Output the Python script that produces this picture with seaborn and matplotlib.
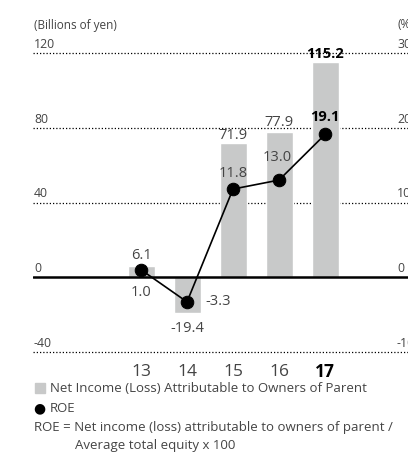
import matplotlib
matplotlib.use("Agg")
import matplotlib.pyplot as plt
import matplotlib.transforms as mtransforms
from matplotlib.patches import Rectangle
import seaborn as sns
import pandas as pd

years = ["13", "14", "15", "16", "17"]
net_income = [6.1, -19.4, 71.9, 77.9, 115.2]
roe = [1.0, -3.3, 11.8, 13.0, 19.1]
left_ticks = [120, 80, 40, 0, -40]
right_ticks = ["30", "20", "10", "0", "-10"]
legend_bar = "Net Income (Loss) Attributable to Owners of Parent"
legend_roe = "ROE"
note1 = "ROE = Net income (loss) attributable to owners of parent /"
note2 = "Average total equity x 100"

sns.set_theme(style="white")
plt.rcParams["font.family"] = ["Open Sans", "DejaVu Sans"]

W, H = 408, 455
fig = plt.figure(figsize=(W / 100, H / 100), dpi=100)

def px_to_fig(x, y):
    return x / W, 1 - y / H

# axes geometry in pixels
ax_left, ax_right = 33, 412
ax_top, ax_bottom = 43.7, 361.3
ax = fig.add_axes([ax_left / W, 1 - ax_bottom / H, (ax_right - ax_left) / W, (ax_bottom - ax_top) / H])

df = pd.DataFrame({"year": years, "ni": net_income, "roe": roe})
sns.barplot(data=df, x="year", y="ni", color="#c8c9c9", saturation=1, width=0.587, ax=ax)

ax.set_ylim(-45, 125)
ax.set_xlim(-2.348, 5.891)

ax2 = ax.twinx()
ax2.set_ylim(-45 / 4, 125 / 4)
sns.lineplot(x=list(range(len(years))), y=roe, ax=ax2, color="black", linewidth=1.2,
             marker="o", markersize=9, markeredgecolor="black", markerfacecolor="black")

for a in (ax, ax2):
    a.set_xlabel("")
    a.set_ylabel("")
    a.set_yticks([])
    a.set_xticks([])
    for s in a.spines.values():
        s.set_visible(False)
    a.grid(False)
ax.patch.set_alpha(0)

# gridlines
for v in left_ticks:
    if v == 0:
        ax.axhline(0, color="black", lw=1.8, zorder=5)
    else:
        ax.axhline(v, color="black", lw=0.9, ls=(0, (1, 1.6)), zorder=0.5)

grey = "#444444"
blend = mtransforms.blended_transform_factory(fig.transFigure, ax.transData)
for v, r in zip(left_ticks, right_ticks):
    ax.text(34 / W, v + 1.2, str(v), transform=blend, ha="left", va="bottom",
            fontsize=8.8, color=grey)
    ax.text(397 / W, v + 1.2, r, transform=blend, ha="left", va="bottom",
            fontsize=8.8, color=grey)
fig.text(34 / W, 1 - 25 / H, "(Billions of yen)", ha="left", va="center", fontsize=8.5, color=grey)
fig.text(397 / W, 1 - 25 / H, "(%)", ha="left", va="center", fontsize=8.5, color=grey)

# x tick labels
for i, y in enumerate(years):
    bold = i == len(years) - 1
    ax.text(i, -50.5, y, ha="center", va="center", fontsize=12.5,
            color="black" if bold else grey, fontweight="bold" if bold else "normal",
            clip_on=False)

# value labels (offsets in points)
fs = 10.5
ni_off = [(0, 7.5), (0, -10.5), (0, 5.5), (0, 6.5), (0, 6)]
for i, v in enumerate(net_income):
    bold = i == len(years) - 1
    ax.annotate(f"{v:.1f}", (i, v), xytext=ni_off[i], textcoords="offset points",
                ha="center", va="center", fontsize=fs,
                color="black" if bold else grey, fontweight="bold" if bold else "normal", zorder=6)

roe_off = [(0, -16.5), (13, 0), (0, 11.5), (-1, 16), (0, 12.5)]
roe_ha = ["center", "left", "center", "center", "center"]
for i, v in enumerate(roe):
    bold = i == len(years) - 1
    ax2.annotate(f"{v:.1f}", (i, v), xytext=roe_off[i], textcoords="offset points",
                 ha=roe_ha[i], va="center", fontsize=fs,
                 color="black" if bold else grey, fontweight="bold" if bold else "normal")

# legend
lfs = 9.5
fig.patches.append(Rectangle(px_to_fig(35, 393), 10 / W, 10 / H, transform=fig.transFigure,
                             color="#c8c9c9", figure=fig))
fig.text(50 / W, 1 - 388 / H, legend_bar, ha="left", va="center", fontsize=lfs, color=grey)
fig.text(33 / W, 1 - 408 / H, "\u25cf", ha="left", va="center", fontsize=10, color="black",
         family="DejaVu Sans")
fig.text(50 / W, 1 - 408 / H, legend_roe, ha="left", va="center", fontsize=lfs, color=grey)
fig.text(34 / W, 1 - 428 / H, note1, ha="left", va="center", fontsize=lfs, color=grey)
fig.text(75 / W, 1 - 446 / H, note2, ha="left", va="center", fontsize=lfs, color=grey)

fig.savefig("out.png", dpi=100)
